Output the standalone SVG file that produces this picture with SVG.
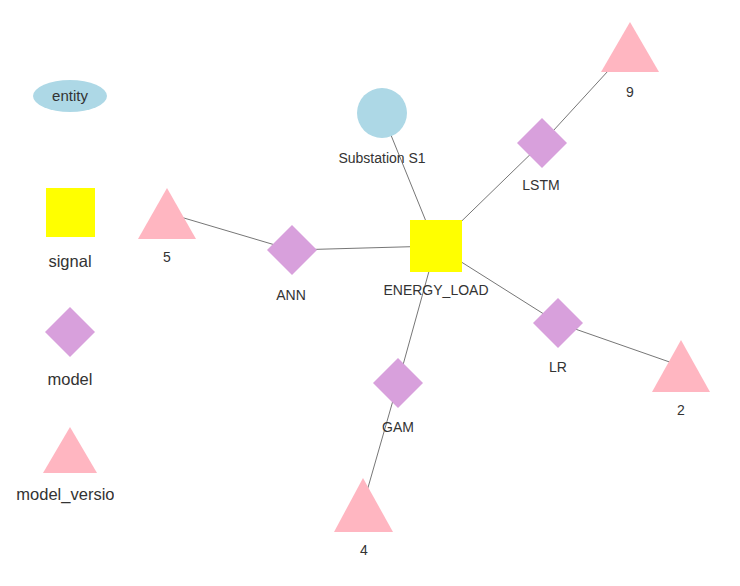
<svg xmlns="http://www.w3.org/2000/svg" width="740" height="586" viewBox="0 0 740 586">
<style>
text{font-family:"Liberation Sans",Arial,sans-serif;fill:#333;text-anchor:middle}
.lg{font-size:16.5px}
.nl{font-size:14px}
.edge{stroke:#666;stroke-width:0.9;fill:none}
.ent{fill:#add8e6}
.sig{fill:#ffff00}
.mod{fill:#d8a0dc}
.ver{fill:#ffb6c1}
</style>
<defs>
<clipPath id="legclip"><rect x="0" y="0" width="114" height="586"/></clipPath>
</defs>
<rect width="740" height="586" fill="#ffffff"/>
<g id="legend">
<g id="legend-entity"><ellipse class="ent" cx="70" cy="96" rx="37" ry="16"/><text x="70" y="101" style="font-size:15px">entity</text></g>
<g id="legend-signal"><rect class="sig" x="46" y="188" width="49" height="49"/><text class="lg" x="70" y="267">signal</text></g>
<g id="legend-model"><polygon class="mod" points="70,307 95,332 70,357 45,332"/><text class="lg" x="70" y="385">model</text></g>
<g id="legend-model_version"><polygon class="ver" points="70,427 97,473 43,473"/><text class="lg" x="70" y="500" clip-path="url(#legclip)">model_version</text></g>
</g>
<g id="edges">
<line class="edge" x1="382" y1="113" x2="436" y2="246"/>
<line class="edge" x1="436" y1="246" x2="542" y2="143"/>
<line class="edge" x1="542" y1="143" x2="630" y2="47"/>
<line class="edge" x1="436" y1="246" x2="292" y2="250"/>
<line class="edge" x1="292" y1="250" x2="167" y2="213"/>
<line class="edge" x1="436" y1="246" x2="398" y2="383"/>
<line class="edge" x1="398" y1="383" x2="363" y2="505"/>
<line class="edge" x1="436" y1="246" x2="558" y2="323"/>
<line class="edge" x1="558" y1="323" x2="681" y2="366"/>
</g>
<g id="node-substation"><circle class="ent" cx="382" cy="113" r="25"/><text class="nl" x="382" y="163">Substation S1</text></g>
<g id="node-energy_load"><rect class="sig" x="410" y="220" width="52" height="52"/><text class="nl" x="436" y="295">ENERGY_LOAD</text></g>
<g id="node-lstm"><polygon class="mod" points="542,118 567,143 542,168 517,143"/><text class="nl" x="541" y="190">LSTM</text></g>
<g id="node-9"><polygon class="ver" points="630,22 659,72 601,72"/><text class="nl" x="630" y="97">9</text></g>
<g id="node-ann"><polygon class="mod" points="292,225 317,250 292,275 267,250"/><text class="nl" x="291" y="300">ANN</text></g>
<g id="node-5"><polygon class="ver" points="167,188 196,239 138,239"/><text class="nl" x="167" y="262">5</text></g>
<g id="node-gam"><polygon class="mod" points="398,358 423,383 398,408 373,383"/><text class="nl" x="398" y="432">GAM</text></g>
<g id="node-4"><polygon class="ver" points="363,478 393,532 334,532"/><text class="nl" x="364" y="555">4</text></g>
<g id="node-lr"><polygon class="mod" points="558,298 583,323 558,348 533,323"/><text class="nl" x="558" y="372">LR</text></g>
<g id="node-2"><polygon class="ver" points="681,340 710,392 652,392"/><text class="nl" x="681" y="415">2</text></g>
</svg>
